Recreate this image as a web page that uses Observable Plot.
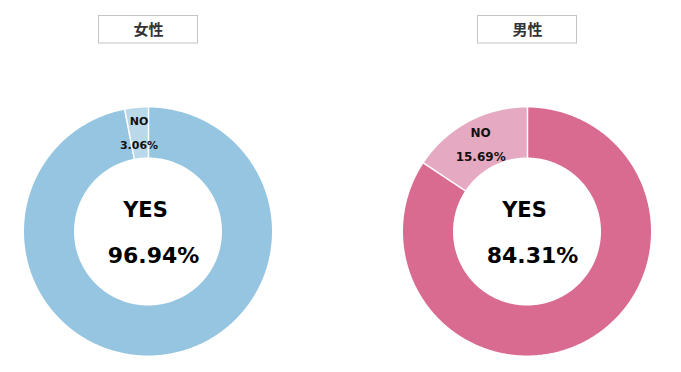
<!DOCTYPE html>
<html>
<head>
<meta charset="utf-8">
<script src="https://cdn.jsdelivr.net/npm/d3@7"></script>
<script src="https://cdn.jsdelivr.net/npm/@observablehq/plot@0.6"></script>
<style>
  html, body { margin: 0; padding: 0; background: #fff; }
  #chart svg { display: block; }
</style>
</head>
<body>
<div id="chart"></div>
<script>
// ---- data ----
const groups = ["女性", "男性"];
const categories = ["YES", "NO"];
const yesValues = [96.94, 84.31];
const noValues = [3.06, 15.69];
const valueLabels = [["96.94%", "3.06%"], ["84.31%", "15.69%"]];

// ---- layout / style ----
const W = 681, H = 372;
const centersX = [148, 527];
const centerY = 231.5;
const R = 124, r = 74;
const sliceColors = {
  "女性-YES": "#95c5e0", "女性-NO": "#b9d9eb",
  "男性-YES": "#d96a90", "男性-NO": "#e6a9c2"
};
const boxHalfW = 49.5, boxTop = 15.5, boxBottom = 43;
const fontLatin = "DejaVu Sans, Verdana, sans-serif";
const fontCJK = "'Noto Sans CJK JP', 'Noto Sans CJK SC', sans-serif";

// ---- build geometry from the data ----
const bandPts = [];
const seps = [];
const sliceLabels = [];
const centerLabels = [];
const titles = [];
groups.forEach((g, gi) => {
  const vals = [yesValues[gi], noValues[gi]];
  const arcs = d3.pie().sort(null).startAngle(0).endAngle(2 * Math.PI)(vals);
  const cx = centersX[gi];
  titles.push({g, cx});
  arcs.forEach((a, ci) => {
    const key = g + "-" + categories[ci];
    const n = Math.max(2, Math.ceil((a.endAngle - a.startAngle) / (Math.PI / 360)));
    for (let k = 0; k <= n; k++) {
      const t = a.startAngle + (a.endAngle - a.startAngle) * k / n;
      bandPts.push({key, xo: cx + R * Math.sin(t), yo: centerY - R * Math.cos(t),
                    xi: cx + r * Math.sin(t), yi: centerY - r * Math.cos(t)});
    }
    const t0 = a.startAngle;
    seps.push({x1: cx + r * Math.sin(t0), y1: centerY - r * Math.cos(t0),
               x2: cx + (R + 1) * Math.sin(t0), y2: centerY - (R + 1) * Math.cos(t0)});
    if (categories[ci] === "NO") {
      const m = (a.startAngle + a.endAngle) / 2, rm = (R + r) / 2;
      sliceLabels.push({gi, x: cx + rm * Math.sin(m), y: centerY - rm * Math.cos(m),
                        cat: categories[ci], pct: valueLabels[gi][ci]});
    } else {
      centerLabels.push({gi, x: cx, y: centerY, cat: categories[ci], pct: valueLabels[gi][ci]});
    }
  });
});

const chart = Plot.plot({
  width: W, height: H, margin: 0,
  style: {background: "#fff"},
  x: {domain: [0, W], range: [0, W], axis: null},
  y: {domain: [0, H], range: [0, H], axis: null},
  color: {domain: Object.keys(sliceColors), range: Object.values(sliceColors)},
  marks: [
    // title boxes
    Plot.rect(titles, {x1: d => d.cx - boxHalfW, x2: d => d.cx + boxHalfW,
                       y1: boxTop, y2: boxBottom, fill: "#fff", stroke: "#c3c3c3", strokeWidth: 1}),
    Plot.text(titles, {x: "cx", y: (boxTop + boxBottom) / 2, text: "g", fontSize: 15,
                       fontWeight: "bold", fill: "#333", fontFamily: fontCJK}),
    // donut slices
    Plot.area(bandPts, {x1: "xo", y1: "yo", x2: "xi", y2: "yi", z: "key", fill: "key"}),
    // slice separators
    Plot.link(seps, {x1: "x1", y1: "y1", x2: "x2", y2: "y2", stroke: "#fff", strokeWidth: 1.5}),
    // NO labels on the ring
    Plot.text(sliceLabels, {x: "x", y: "y", text: "cat", dy: -12, fontWeight: "bold", fill: "#111",
                            fontFamily: fontLatin, fontSize: d => d.gi === 0 ? 11 : 12}),
    Plot.text(sliceLabels, {x: "x", y: "y", text: "pct", dy: 12, fontWeight: "bold", fill: "#111",
                            fontFamily: fontLatin, fontSize: d => d.gi === 0 ? 11 : 12}),
    // center YES labels
    Plot.text(centerLabels, {x: "x", y: "y", text: "cat", dx: -3, dy: -22, fontWeight: "bold",
                             fill: "#000", fontFamily: fontLatin, fontSize: 21}),
    Plot.text(centerLabels, {x: "x", y: "y", text: "pct", dx: 5, dy: 23.5, fontWeight: "bold",
                             fill: "#000", fontFamily: fontLatin, fontSize: 22})
  ]
});
document.getElementById("chart").appendChild(chart);
</script>
</body>
</html>
